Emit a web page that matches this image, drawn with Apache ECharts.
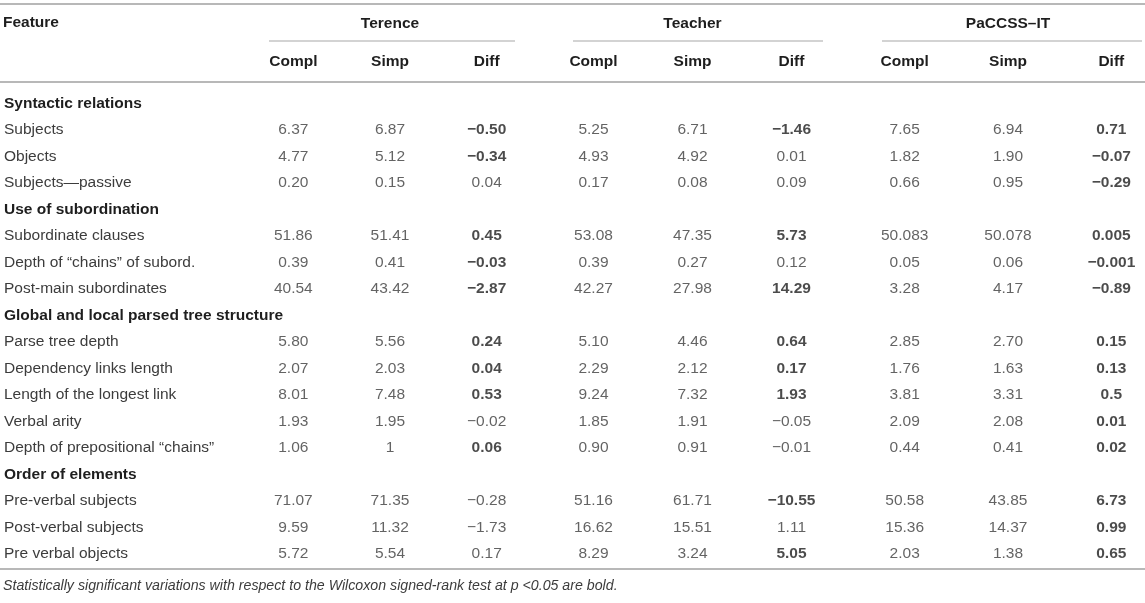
<!DOCTYPE html>
<html>
<head>
<meta charset="utf-8">
<title>Syntactic features: Terence, Teacher, PaCCSS–IT</title>
<script src="https://cdn.jsdelivr.net/npm/echarts@6.0.0/dist/echarts.min.js"></script>
<style>
  html, body { margin: 0; padding: 0; background: #fff; }
  #main { width: 1145px; height: 603px; }
</style>
</head>
<body>
<div id="main"></div>
<script>
// table rows, section headings have no values
var features = [
  'Syntactic relations',
  'Subjects',
  'Objects',
  'Subjects—passive',
  'Use of subordination',
  'Subordinate clauses',
  'Depth of “chains” of subord.',
  'Post-main subordinates',
  'Global and local parsed tree structure',
  'Parse tree depth',
  'Dependency links length',
  'Length of the longest link',
  'Verbal arity',
  'Depth of prepositional “chains”',
  'Order of elements',
  'Pre-verbal subjects',
  'Post-verbal subjects',
  'Pre verbal objects'
];
var sections = ['Syntactic relations', 'Use of subordination', 'Global and local parsed tree structure', 'Order of elements'];
var columns = ['Compl', 'Simp', 'Diff'];
var groups = ['Terence', 'Teacher', 'PaCCSS–IT'];

var terenceCompl = [null, '6.37', '4.77', '0.20', null, '51.86', '0.39', '40.54', null, '5.80', '2.07', '8.01', '1.93', '1.06', null, '71.07', '9.59', '5.72'];
var terenceSimp  = [null, '6.87', '5.12', '0.15', null, '51.41', '0.41', '43.42', null, '5.56', '2.03', '7.48', '1.95', '1', null, '71.35', '11.32', '5.54'];
var terenceDiff  = [null, '−0.50', '−0.34', '0.04', null, '0.45', '−0.03', '−2.87', null, '0.24', '0.04', '0.53', '−0.02', '0.06', null, '−0.28', '−1.73', '0.17'];
var terenceBold  = [1, 2, 5, 6, 7, 9, 10, 11, 13];

var teacherCompl = [null, '5.25', '4.93', '0.17', null, '53.08', '0.39', '42.27', null, '5.10', '2.29', '9.24', '1.85', '0.90', null, '51.16', '16.62', '8.29'];
var teacherSimp  = [null, '6.71', '4.92', '0.08', null, '47.35', '0.27', '27.98', null, '4.46', '2.12', '7.32', '1.91', '0.91', null, '61.71', '15.51', '3.24'];
var teacherDiff  = [null, '−1.46', '0.01', '0.09', null, '5.73', '0.12', '14.29', null, '0.64', '0.17', '1.93', '−0.05', '−0.01', null, '−10.55', '1.11', '5.05'];
var teacherBold  = [1, 5, 7, 9, 10, 11, 15, 17];

var paccssCompl = [null, '7.65', '1.82', '0.66', null, '50.083', '0.05', '3.28', null, '2.85', '1.76', '3.81', '2.09', '0.44', null, '50.58', '15.36', '2.03'];
var paccssSimp  = [null, '6.94', '1.90', '0.95', null, '50.078', '0.06', '4.17', null, '2.70', '1.63', '3.31', '2.08', '0.41', null, '43.85', '14.37', '1.38'];
var paccssDiff  = [null, '0.71', '−0.07', '−0.29', null, '0.005', '−0.001', '−0.89', null, '0.15', '0.13', '0.5', '0.01', '0.02', null, '6.73', '0.99', '0.65'];
var paccssBold  = [1, 2, 3, 5, 6, 7, 9, 10, 11, 12, 13, 15, 16, 17];

var footnote = 'Statistically significant variations with respect to the Wilcoxon signed-rank test at p <0.05 are bold.';

var FONT = '"Liberation Sans", Arial, Helvetica, sans-serif';
var TXT = '#3c3c3c';
var BOLD = '#1e1e1e';
var FS = 15.5;

var tableTop = 90, rowH = 26.5;
var tableH = rowH * features.length;

// group blocks: grid left/width and underline extent
var blocks = [
  { cols: [terenceCompl, terenceSimp, terenceDiff], bold: terenceBold, left: 245, width: 290, line: [269, 515] },
  { cols: [teacherCompl, teacherSimp, teacherDiff], bold: teacherBold, left: 544, width: 297, line: [573, 823] },
  { cols: [paccssCompl, paccssSimp, paccssDiff], bold: paccssBold, left: 853, width: 310, line: [882, 1142] }
];

var grid = [{ left: 2, top: tableTop, width: 1, height: tableH, outerBoundsMode: 'none' }];
var xAxis = [{ type: 'value', gridIndex: 0, show: false }];
var yAxis = [{
  type: 'category', gridIndex: 0, data: features, inverse: true, position: 'right',
  axisLine: { show: false }, axisTick: { show: false }, splitLine: { show: false },
  axisLabel: {
    interval: 0, margin: 1, align: 'left', color: TXT, fontFamily: FONT, fontSize: FS,
    formatter: function (v) { return sections.indexOf(v) >= 0 ? '{s|' + v + '}' : v; },
    rich: { s: { fontWeight: 'bold', color: BOLD, fontFamily: FONT, fontSize: FS } }
  }
}];
var series = [];

blocks.forEach(function (b, gi) {
  var idx = gi + 1;
  grid.push({ left: b.left, top: tableTop, width: b.width, height: tableH, outerBoundsMode: 'none' });
  xAxis.push({
    type: 'category', gridIndex: idx, data: columns, position: 'top',
    axisLine: { show: false }, axisTick: { show: false }, splitLine: { show: false },
    axisLabel: { interval: 0, margin: 20, color: BOLD, fontWeight: 'bold', fontFamily: FONT, fontSize: FS },
    name: groups[gi], nameLocation: 'middle', nameGap: 58,
    nameTextStyle: { color: BOLD, fontWeight: 'bold', fontFamily: FONT, fontSize: FS }
  });
  yAxis.push({ type: 'category', gridIndex: idx, data: features, inverse: true, show: false });
  b.cols.forEach(function (vals, ci) {
    var data = [];
    vals.forEach(function (v, ri) {
      if (v === null) return;
      var strong = ci === 2 && b.bold.indexOf(ri) >= 0;
      data.push({
        value: [ci, ri, v],
        label: { fontWeight: strong ? 'bold' : 'normal', color: strong ? BOLD : TXT }
      });
    });
    series.push({
      type: 'scatter', xAxisIndex: idx, yAxisIndex: idx, data: data,
      symbolSize: 1, itemStyle: { color: 'rgba(0,0,0,0)' }, silent: true,
      label: {
        show: true, position: 'inside', fontFamily: FONT, fontSize: FS,
        formatter: function (p) { return p.value[2]; }
      }
    });
  });
});

// table rules
var rules = [
  { x1: 0, x2: 1145, y: 4, w: 2, c: '#b8b8b8' },
  { x1: 0, x2: 1145, y: 82, w: 2, c: '#b8b8b8' },
  { x1: 0, x2: 1145, y: 569, w: 2, c: '#b8b8b8' }
];
blocks.forEach(function (b) { rules.push({ x1: b.line[0], x2: b.line[1], y: 41, w: 1.5, c: '#c4c4c4' }); });

var option = {
  animation: false,
  title: [
    { text: 'Feature', left: 3, top: 15, padding: 0,
      textStyle: { color: BOLD, fontWeight: 'bold', fontFamily: FONT, fontSize: FS } },
    { text: footnote, left: 3, top: 579, padding: 0,
      textStyle: { color: TXT, fontWeight: 'normal', fontStyle: 'italic', fontFamily: FONT, fontSize: 14.2 } }
  ],
  grid: grid,
  xAxis: xAxis,
  yAxis: yAxis,
  series: series,
  graphic: rules.map(function (r) {
    return { type: 'line', silent: true, shape: { x1: r.x1, y1: r.y, x2: r.x2, y2: r.y }, style: { stroke: r.c, lineWidth: r.w } };
  })
};

var myChart = echarts.init(document.getElementById('main'));
myChart.setOption(option);
</script>
</body>
</html>
